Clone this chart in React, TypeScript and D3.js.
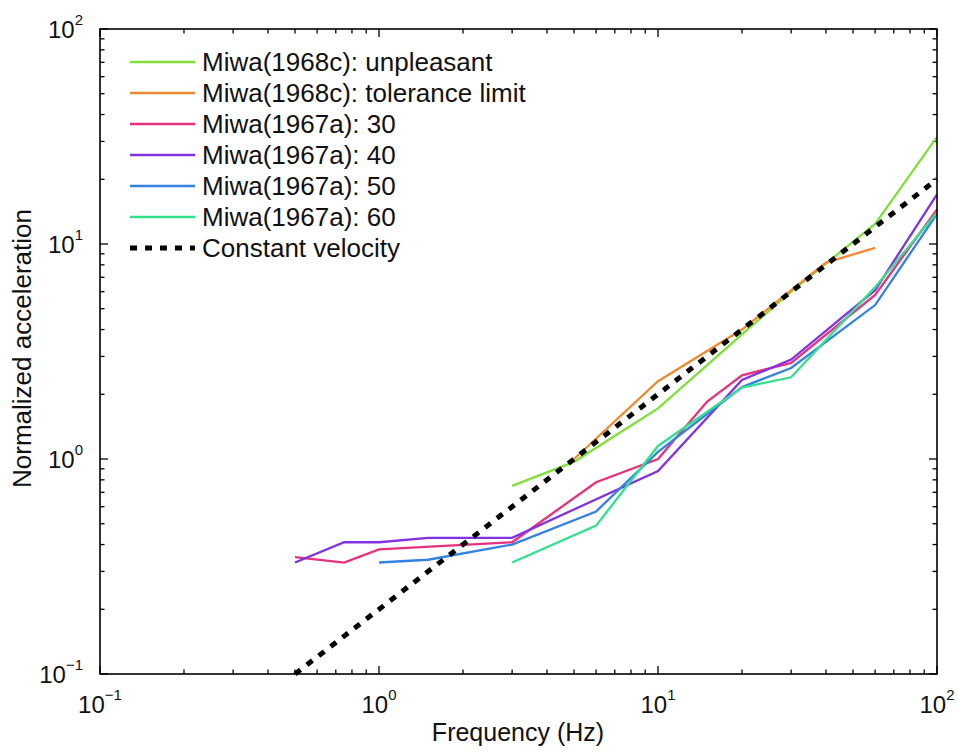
import React from "react";
import * as d3 from "d3";

const freqUnpleasant = [3, 5, 10, 20, 30, 60, 100];
const accUnpleasant = [0.75, 0.97, 1.72, 3.8, 6.0, 12.4, 31.5];

const freqTolerance = [5, 10, 20, 40, 60];
const accTolerance = [1.0, 2.3, 4.0, 8.2, 9.6];

const freq30 = [0.5, 0.75, 1, 3, 6, 10, 15, 20, 30, 60, 100];
const acc30 = [0.35, 0.33, 0.38, 0.41, 0.78, 1.0, 1.85, 2.45, 2.8, 5.8, 14.5];

const freq40 = [0.5, 0.75, 1, 1.5, 3, 10, 20, 30, 60, 100];
const acc40 = [0.33, 0.41, 0.41, 0.43, 0.43, 0.88, 2.33, 2.9, 6.1, 17];

const freq50 = [1, 1.5, 3, 6, 10, 20, 30, 60, 100];
const acc50 = [0.33, 0.34, 0.4, 0.57, 1.08, 2.16, 2.65, 5.2, 13.8];

const freq60 = [3, 6, 10, 20, 30, 60, 100];
const acc60 = [0.33, 0.49, 1.15, 2.15, 2.4, 6.3, 14];

const freqVelocity = [0.5, 100];
const accVelocity = [0.1, 20];

const seriesNames = [
  "Miwa(1968c): unpleasant",
  "Miwa(1968c): tolerance limit",
  "Miwa(1967a): 30",
  "Miwa(1967a): 40",
  "Miwa(1967a): 50",
  "Miwa(1967a): 60",
  "Constant velocity",
];
const seriesColors = ["#80e03a", "#f08a32", "#e8317c", "#8232e0", "#3282e2", "#32e08e", "#000000"];

const decadeExponents = [-1, 0, 1, 2];

const FONT = "'Liberation Sans', Arial, Helvetica, sans-serif";

export default function App() {
  const left = 100, right = 937, top = 29, bottom = 674;
  const x = d3.scaleLog().domain([0.1, 100]).range([left, right]);
  const y = d3.scaleLog().domain([0.1, 100]).range([bottom, top]);

  const series = [
    [freqUnpleasant, accUnpleasant],
    [freqTolerance, accTolerance],
    [freq30, acc30],
    [freq40, acc40],
    [freq50, acc50],
    [freq60, acc60],
    [freqVelocity, accVelocity],
  ];

  const line = d3
    .line<[number, number]>()
    .x((d) => x(d[0]))
    .y((d) => y(d[1]));

  const minor: number[] = [];
  for (let e = -1; e < 2; e++) {
    for (let m = 2; m <= 9; m++) minor.push(m * Math.pow(10, e));
  }
  const major = decadeExponents.map((e) => Math.pow(10, e));

  const expLabel = (e: number) => (e < 0 ? "\u2212" + Math.abs(e) : String(e));

  const legendX0 = 130, legendX1 = 195, legendTextX = 202, legendY0 = 62, legendDy = 31;

  return (
    <svg
      width={959}
      height={752}
      style={{ position: "absolute", left: 0, top: 0, background: "#fff" }}
      fontFamily={FONT}
    >
      <rect x={0} y={0} width={959} height={752} fill="#fff" />
      {/* ticks */}
      <g stroke="#000" strokeWidth={1.3}>
        {major.map((v, i) => (
          <g key={"mx" + i}>
            <line x1={x(v)} x2={x(v)} y1={bottom} y2={bottom - 8} />
            <line x1={x(v)} x2={x(v)} y1={top} y2={top + 8} />
            <line x1={left} x2={left + 8} y1={y(v)} y2={y(v)} />
            <line x1={right} x2={right - 8} y1={y(v)} y2={y(v)} />
          </g>
        ))}
        {minor.map((v, i) => (
          <g key={"mn" + i}>
            <line x1={x(v)} x2={x(v)} y1={bottom} y2={bottom - 4.5} />
            <line x1={x(v)} x2={x(v)} y1={top} y2={top + 4.5} />
            <line x1={left} x2={left + 4.5} y1={y(v)} y2={y(v)} />
            <line x1={right} x2={right - 4.5} y1={y(v)} y2={y(v)} />
          </g>
        ))}
      </g>
      {/* series */}
      <g fill="none">
        {series.map(([fs, as], i) => {
          const pts = fs.map((f, j) => [f, as[j]] as [number, number]);
          const isDot = i === 6;
          return (
            <path
              key={"s" + i}
              d={line(pts) || ""}
              stroke={seriesColors[i]}
              strokeWidth={isDot ? 5 : 2.3}
              strokeDasharray={isDot ? "7,8" : undefined}
            />
          );
        })}
      </g>
      {/* frame */}
      <rect x={left} y={top} width={right - left} height={bottom - top} fill="none" stroke="#000" strokeWidth={1.6} />
      {/* tick labels */}
      <g fontSize={24} fill="#111">
        {decadeExponents.map((e) => (
          <text key={"xl" + e} x={x(Math.pow(10, e))} y={bottom + 39} textAnchor="middle">
            10
            <tspan fontSize={15} dy={-13}>
              {expLabel(e)}
            </tspan>
          </text>
        ))}
        {decadeExponents.map((e) => (
          <text key={"yl" + e} x={83} y={y(Math.pow(10, e)) + 9} textAnchor="end">
            10
            <tspan fontSize={15} dy={-13}>
              {expLabel(e)}
            </tspan>
          </text>
        ))}
      </g>
      {/* axis titles */}
      <text x={518} y={741} textAnchor="middle" fontSize={25} fill="#111">
        Frequency (Hz)
      </text>
      <text
        transform={`translate(31, ${(top + bottom) / 2 - 3}) rotate(-90)`}
        textAnchor="middle"
        fontSize={26}
        fill="#111"
      >
        Normalized acceleration
      </text>
      {/* legend */}
      <g>
        {seriesNames.map((name, i) => {
          const yy = legendY0 + i * legendDy;
          const isDot = i === 6;
          return (
            <g key={"lg" + i}>
              <line
                x1={legendX0}
                x2={legendX1}
                y1={yy}
                y2={yy}
                stroke={seriesColors[i]}
                strokeWidth={isDot ? 5 : 2.5}
                strokeDasharray={isDot ? "7,8" : undefined}
              />
              <text x={legendTextX} y={yy + 9} fontSize={26} fill="#111">
                {name}
              </text>
            </g>
          );
        })}
      </g>
    </svg>
  );
}
